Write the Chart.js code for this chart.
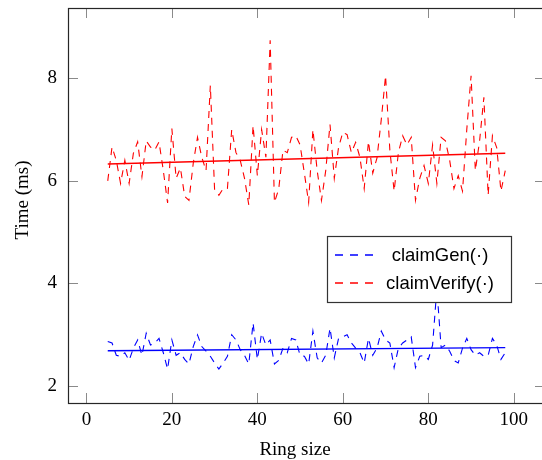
<!DOCTYPE html>
<html>
<head>
<meta charset="utf-8">
<script src="https://cdn.jsdelivr.net/npm/chart.js@4"></script>
<style>
  html, body { margin: 0; padding: 0; background: #fff; overflow: hidden; }
  #wrap { width: 548px; height: 460px; }
</style>
</head>
<body>
<div id="wrap"><canvas id="c" width="548" height="460"></canvas></div>
<script>
// ---- data ----
const ringSizes = [];
for (let n = 5; n <= 98; n++) ringSizes.push(n);

const claimGen = [
  2.87, 2.84, 2.60, 2.58, 2.65, 2.50, 2.74, 2.90, 2.60, 3.03,
  2.80, 2.84, 2.93, 2.65, 2.33, 2.90, 2.60, 2.65, 2.52, 2.43,
  2.77, 3.00, 2.77, 2.68, 2.58, 2.45, 2.33, 2.45, 2.58, 3.00,
  2.90, 2.71, 2.60, 2.43, 3.23, 2.52, 3.03, 2.80, 2.90, 2.43,
  2.50, 2.74, 2.65, 2.93, 2.90, 2.60, 2.58, 2.43, 3.07, 2.55,
  2.45, 2.60, 3.13, 2.55, 2.93, 2.96, 3.00, 2.84, 2.74, 2.65,
  2.45, 2.93, 2.60, 2.74, 3.07, 2.90, 2.84, 2.36, 2.74, 2.84,
  2.90, 2.96, 2.36, 2.58, 2.60, 2.52, 2.80, 3.90, 2.75, 2.80,
  2.68, 2.50, 2.45, 2.74, 2.93, 2.71, 2.60, 2.65, 2.58, 2.60,
  2.93, 2.80, 2.52, 2.65
];

const claimVerify = [
  6.00, 6.66, 6.40, 5.95, 6.40, 5.95, 6.54, 6.76, 6.08, 6.78,
  6.66, 6.60, 6.76, 6.20, 5.57, 7.02, 6.05, 6.25, 5.70, 5.62,
  6.34, 6.85, 6.46, 6.20, 7.86, 5.82, 5.72, 5.85, 5.85, 7.00,
  6.55, 6.40, 6.05, 5.53, 7.08, 6.10, 7.00, 6.46, 8.74, 5.58,
  5.84, 6.60, 6.55, 6.85, 6.88, 6.70, 6.15, 5.58, 7.00, 6.20,
  5.62, 6.20, 7.10, 6.05, 6.65, 6.95, 6.90, 6.55, 6.75, 6.46,
  5.85, 6.77, 6.15, 6.45, 7.20, 8.05, 6.60, 5.80, 6.55, 6.88,
  6.70, 6.85, 5.62, 6.05, 6.30, 5.95, 6.70, 5.95, 6.85, 6.78,
  6.40, 5.85, 6.10, 5.80, 7.00, 8.05, 6.20, 6.78, 7.63, 5.72,
  6.88, 6.65, 5.80, 6.20
];

const genTrend = [2.69, 2.75];
const verifyTrend = [6.33, 6.54];
const trendX = [5, 98];

const xTicks = [0, 20, 40, 60, 80, 100];
const yTicks = [2, 4, 6, 8];

const seriesLabels = ['claimGen(\u00b7)', 'claimVerify(\u00b7)'];
const seriesColors = ['rgb(0,0,255)', 'rgb(255,0,0)'];
const xTitle = 'Ring size';
const yTitle = 'Time (ms)';

// ---- helpers ----
const pts = (xs, ys) => xs.map((x, i) => ({ x: x, y: ys[i] }));

const serif = "'Liberation Serif', 'Times New Roman', serif";
const sans = "'Liberation Sans', Arial, sans-serif";

const overlayPlugin = {
  id: 'overlay',
  afterDraw(chart) {
    const { ctx, chartArea: a, scales } = chart;

    // ---- legend box ----
    ctx.save();
    const L = 327, T = 236, R = 511, B = 302;
    ctx.fillStyle = '#ffffff';
    ctx.fillRect(L, T, R - L, B - T);
    ctx.strokeStyle = '#333333';
    ctx.lineWidth = 1.2;
    ctx.strokeRect(L + 0.5, T + 0.5, R - L, B - T);
    ctx.restore();

    const rows = [255, 283];
    for (let i = 0; i < rows.length; i++) {
      const y = rows[i];
      ctx.save();
      ctx.setLineDash([8, 7]);
      ctx.lineWidth = 1.3;
      ctx.strokeStyle = seriesColors[i];
      ctx.beginPath();
      ctx.moveTo(335, y);
      ctx.lineTo(374, y);
      ctx.stroke();
      ctx.restore();

      ctx.save();
      ctx.fillStyle = '#000000';
      ctx.font = '18.5px ' + sans;
      ctx.textAlign = 'center';
      ctx.textBaseline = 'middle';
      ctx.fillText(seriesLabels[i], 440, y + 1);
      ctx.restore();
    }

    // ---- inward ticks ----
    ctx.save();
    ctx.strokeStyle = '#8a8a8a';
    ctx.lineWidth = 1;
    const tl = 10;
    ctx.beginPath();
    xTicks.forEach(v => {
      const px = Math.round(scales.x.getPixelForValue(v)) + 0.5;
      ctx.moveTo(px, a.bottom); ctx.lineTo(px, a.bottom - tl);
      ctx.moveTo(px, a.top); ctx.lineTo(px, a.top + tl);
    });
    yTicks.forEach(v => {
      const py = Math.round(scales.y.getPixelForValue(v)) + 0.5;
      ctx.moveTo(a.left, py); ctx.lineTo(a.left + tl, py);
      ctx.moveTo(a.right, py); ctx.lineTo(a.right - tl, py);
    });
    ctx.stroke();
    // frame
    ctx.strokeStyle = '#262626';
    ctx.lineWidth = 1.2;
    ctx.strokeRect(Math.round(a.left) + 0.5, Math.round(a.top) + 0.5,
                   Math.round(a.right - a.left), Math.round(a.bottom - a.top));
    // axis titles
    ctx.fillStyle = '#000';
    ctx.font = '19px ' + serif;
    ctx.textAlign = 'center';
    ctx.textBaseline = 'alphabetic';
    ctx.fillText(xTitle, 295, 455);
    ctx.translate(28, 200);
    ctx.rotate(-Math.PI / 2);
    ctx.fillText(yTitle, 0, 0);
    ctx.restore();
  }
};

new Chart(document.getElementById('c'), {
  type: 'line',
  data: {
    datasets: [
      {
        label: seriesLabels[0],
        data: pts(ringSizes, claimGen),
        borderColor: seriesColors[0],
        borderWidth: 1.1,
        borderDash: [7, 6],
        pointRadius: 0,
        tension: 0,
        fill: false
      },
      {
        label: seriesLabels[1],
        data: pts(ringSizes, claimVerify),
        borderColor: seriesColors[1],
        borderWidth: 1.1,
        borderDash: [7, 6],
        pointRadius: 0,
        tension: 0,
        fill: false
      },
      {
        label: 'genTrend',
        data: pts(trendX, genTrend),
        borderColor: seriesColors[0],
        borderWidth: 1.4,
        pointRadius: 0,
        fill: false
      },
      {
        label: 'verifyTrend',
        data: pts(trendX, verifyTrend),
        borderColor: seriesColors[1],
        borderWidth: 1.4,
        pointRadius: 0,
        fill: false
      }
    ]
  },
  options: {
    responsive: false,
    animation: false,
    layout: { padding: { left: 0, right: 3, top: 8, bottom: 0 } },
    plugins: { legend: { display: false }, tooltip: { enabled: false } },
    scales: {
      x: {
        type: 'linear',
        min: -4.3,
        max: 107.3,
        afterBuildTicks: s => { s.ticks = xTicks.map(v => ({ value: v })); },
        afterFit: s => { s.height = 57; s.paddingLeft = 0; s.paddingRight = 0; },
        grid: { display: false, drawTicks: false },
        border: { display: false },
        ticks: {
          padding: 6,
          maxRotation: 0,
          autoSkip: false,
          color: '#000',
          font: { family: serif, size: 19 }
        },
        title: { display: false }
      },
      y: {
        type: 'linear',
        min: 1.67,
        max: 9.37,
        afterBuildTicks: s => { s.ticks = yTicks.map(v => ({ value: v })); },
        afterFit: s => { s.width = 68; s.paddingTop = 0; s.paddingBottom = 0; },
        grid: { display: false, drawTicks: false },
        border: { display: false },
        ticks: {
          padding: 11,
          autoSkip: false,
          color: '#000',
          font: { family: serif, size: 19 }
        },
        title: { display: false }
      }
    }
  },
  plugins: [overlayPlugin]
});
</script>
</body>
</html>
